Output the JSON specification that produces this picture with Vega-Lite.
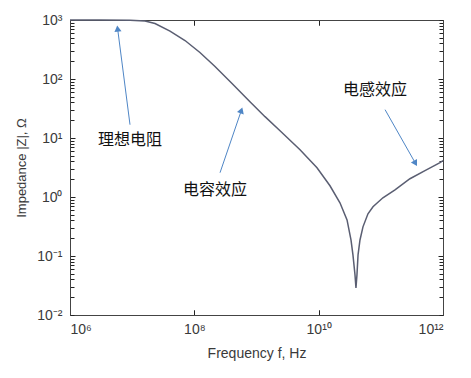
{
  "$schema": "https://vega.github.io/schema/vega-lite/v6.json",
  "width": 373,
  "height": 295,
  "autosize": "none",
  "padding": {"left": 70, "top": 20, "right": 28, "bottom": 63},
  "datasets": {
    "curve": [
      {"f": 1e6, "z": 1000}, {"f": 3.04e6, "z": 1000}, {"f": 9.23e6, "z": 988}, {"f": 1.61e7, "z": 962},
      {"f": 2.33e7, "z": 873}, {"f": 4.06e7, "z": 646}, {"f": 7.08e7, "z": 449}, {"f": 1.23e8, "z": 281},
      {"f": 2.15e8, "z": 163}, {"f": 4.19e8, "z": 80.4}, {"f": 7.85e8, "z": 41.3}, {"f": 1.37e9, "z": 23.0},
      {"f": 2.39e9, "z": 13.3}, {"f": 5.01e9, "z": 6.32}, {"f": 9.4e9, "z": 3.13}, {"f": 1.52e10, "z": 1.55},
      {"f": 2.2e10, "z": 0.798}, {"f": 2.86e10, "z": 0.41}, {"f": 3.31e10, "z": 0.187}, {"f": 3.56e10, "z": 0.1045},
      {"f": 3.84e10, "z": 0.0478}, {"f": 3.98e10, "z": 0.0288}, {"f": 4.13e10, "z": 0.0478}, {"f": 4.3e10, "z": 0.1045},
      {"f": 4.62e10, "z": 0.187}, {"f": 5.16e10, "z": 0.312}, {"f": 6.21e10, "z": 0.519}, {"f": 7.48e10, "z": 0.682},
      {"f": 1.08e11, "z": 0.97}, {"f": 1.69e11, "z": 1.324}, {"f": 2.94e11, "z": 2.04}, {"f": 5.13e11, "z": 2.79},
      {"f": 8.95e11, "z": 3.81}, {"f": 1e12, "z": 4.12}
    ],
    "notes": [
      {"label": "理想电阻", "tf": 9.23e6, "tz": 9.36, "f0": 9.23e6, "z0": 16.8, "f1": 5.83e6, "z1": 717},
      {"label": "电容效应", "tf": 2.15e8, "tz": 1.32, "f0": 2.59e8, "z0": 2.58, "f1": 5.71e8, "z1": 29.4},
      {"label": "电感效应", "tf": 8.05e10, "tz": 66.1, "f0": 1.17e11, "z0": 30.2, "f1": 3.61e11, "z1": 3.72}
    ]
  },
  "resolve": {"axis": {"x": "independent", "y": "independent"}},
  "layer": [
    {
      "data": {"name": "curve"},
      "mark": {"type": "line", "color": "#5a5e72", "strokeWidth": 1.5},
      "encoding": {
        "x": {"field": "f", "type": "quantitative",
          "scale": {"type": "log", "domain": [1e6, 1e12], "nice": false},
          "axis": {"orient": "bottom", "values": [1e6, 1e8, 1e10, 1e12],
            "grid": true, "gridColor": "#222", "gridOpacity": 1, "gridWidth": 1, "gridDash": [5, 1000],
            "domainColor": "#444", "tickSize": -5, "tickWidth": 1, "tickColor": "#222",
            "labelPadding": 12, "labelFontSize": 14, "labelFont": "Liberation Sans", "labelColor": "#3a3a3a",
            "labelExpr": "datum.value == 1e6 ? '10⁶' : datum.value == 1e8 ? '10⁸' : datum.value == 1e10 ? '10¹⁰' : '10¹²'",
            "title": "Frequency f, Hz", "titleFont": "Liberation Sans", "titleColor": "#3a3a3a", "titleFontSize": 14, "titleFontWeight": "normal", "titlePadding": 10}},
        "y": {"field": "z", "type": "quantitative",
          "scale": {"type": "log", "domain": [0.01, 1000], "nice": false},
          "axis": {"orient": "left",
            "values": [0.01,0.02,0.03,0.04,0.05,0.06,0.07,0.08,0.09,0.1,0.2,0.3,0.4,0.5,0.6,0.7,0.8,0.9,1,2,3,4,5,6,7,8,9,10,20,30,40,50,60,70,80,90,100,200,300,400,500,600,700,800,900,1000],
            "grid": true, "gridColor": "#222", "gridOpacity": 1, "gridWidth": 1,
            "gridDash": {"condition": {"test": "abs(log(datum.value)/LN10 - round(log(datum.value)/LN10)) < 0.001", "value": [5, 1000]}, "value": [3, 1000]},
            "domainColor": "#444", "tickSize": -4, "tickWidth": 1, "tickColor": "#222",
            "labelPadding": 12, "labelFontSize": 14, "labelFont": "Liberation Sans", "labelColor": "#3a3a3a",
            "labelExpr": "datum.value == 1000 ? '10³' : datum.value == 100 ? '10²' : datum.value == 10 ? '10¹' : datum.value == 1 ? '10⁰' : datum.value == 0.1 ? '10⁻¹' : datum.value == 0.01 ? '10⁻²' : ''",
            "title": "Impedance |Z|, Ω", "titleFont": "Liberation Sans", "titleColor": "#3a3a3a", "titleFontSize": 13, "titleFontWeight": "normal", "titlePadding": 8}}
      }
    },
    {
      "data": {"name": "notes"},
      "mark": {"type": "rule", "color": "#4f86c6", "strokeWidth": 1},
      "encoding": {
        "x": {"field": "f0", "type": "quantitative", "scale": {"type": "log", "domain": [1e6, 1e12], "nice": false},
          "axis": {"orient": "top", "values": [1e8, 1e10],
            "grid": true, "gridColor": "#222", "gridOpacity": 1, "gridWidth": 1, "gridDash": [5, 1000],
            "domainColor": "#444", "tickSize": -5, "tickWidth": 1, "tickColor": "#222", "labels": false, "title": null}},
        "y": {"field": "z0", "type": "quantitative", "scale": {"type": "log", "domain": [0.01, 1000], "nice": false},
          "axis": {"orient": "right", "labels": false, "title": null,
            "grid": true, "gridColor": "#222", "gridOpacity": 1, "gridWidth": 1,
            "gridDash": {"condition": {"test": "abs(log(datum.value)/LN10 - round(log(datum.value)/LN10)) < 0.001", "value": [5, 1000]}, "value": [3, 1000]},
            "domainColor": "#444", "tickSize": -4, "tickWidth": 1, "tickColor": "#222",
            "values": [0.01,0.02,0.03,0.04,0.05,0.06,0.07,0.08,0.09,0.1,0.2,0.3,0.4,0.5,0.6,0.7,0.8,0.9,1,2,3,4,5,6,7,8,9,10,20,30,40,50,60,70,80,90,100,200,300,400,500,600,700,800,900,1000]}},
        "x2": {"field": "f1"},
        "y2": {"field": "z1"}
      }
    },
    {
      "data": {"name": "notes"},
      "transform": [{"filter": "datum.label == '理想电阻'"}],
      "mark": {"type": "point", "shape": "triangle-up", "filled": true, "color": "#4f86c6", "size": 50, "angle": 353, "opacity": 1},
      "encoding": {
        "x": {"field": "f1", "type": "quantitative", "axis": null},
        "y": {"field": "z1", "type": "quantitative", "axis": null}
      }
    },
    {
      "data": {"name": "notes"},
      "transform": [{"filter": "datum.label == '电容效应'"}],
      "mark": {"type": "point", "shape": "triangle-up", "filled": true, "color": "#4f86c6", "size": 50, "angle": 19, "opacity": 1},
      "encoding": {
        "x": {"field": "f1", "type": "quantitative", "axis": null},
        "y": {"field": "z1", "type": "quantitative", "axis": null}
      }
    },
    {
      "data": {"name": "notes"},
      "transform": [{"filter": "datum.label == '电感效应'"}],
      "mark": {"type": "point", "shape": "triangle-up", "filled": true, "color": "#4f86c6", "size": 50, "angle": 150, "opacity": 1},
      "encoding": {
        "x": {"field": "f1", "type": "quantitative", "axis": null},
        "y": {"field": "z1", "type": "quantitative", "axis": null}
      }
    },
    {
      "data": {"name": "notes"},
      "mark": {"type": "text", "font": "Noto Sans CJK SC", "fontSize": 16, "color": "#111", "align": "center", "baseline": "middle"},
      "encoding": {
        "x": {"field": "tf", "type": "quantitative", "axis": null},
        "y": {"field": "tz", "type": "quantitative", "axis": null},
        "text": {"field": "label"}
      }
    }
  ]
}
